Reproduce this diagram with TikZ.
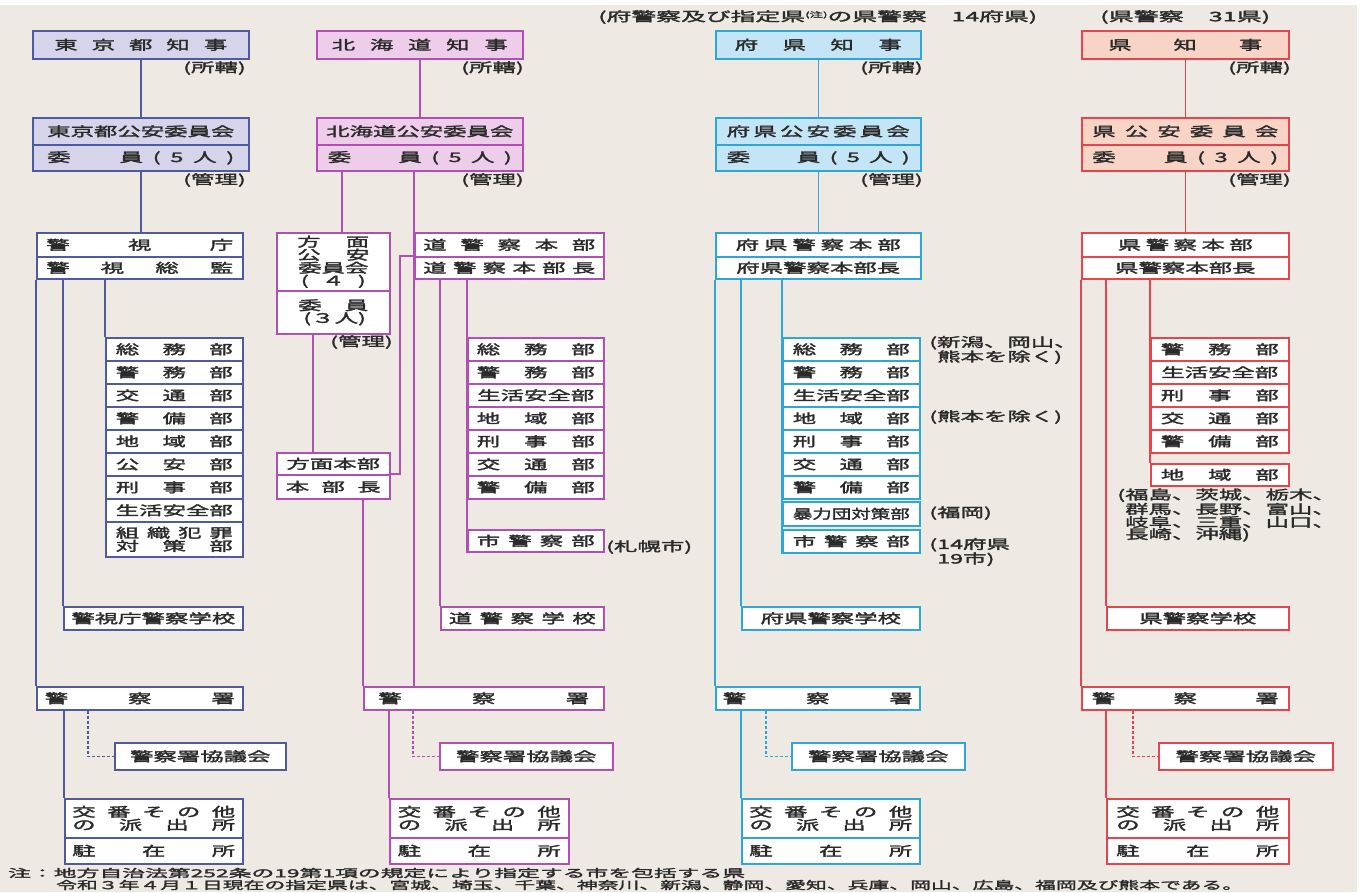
\documentclass[tikz,border=0pt]{standalone}
\usepackage{fontspec}
\usepackage{graphicx}
\setmainfont{Noto Sans CJK JP}[FakeStretch=1.8, FakeBold=2.3]
\definecolor{bgc}{HTML}{EFE9E4}
\definecolor{txt}{HTML}{2A2A2A}
\definecolor{cT}{HTML}{4F5AA3}\definecolor{fT}{HTML}{D5D4EB}
\definecolor{cH}{HTML}{B24FB4}\definecolor{fH}{HTML}{EDCDE9}
\definecolor{cF}{HTML}{2EA7D8}\definecolor{fF}{HTML}{C3E5F5}
\definecolor{cK}{HTML}{EA434D}\definecolor{fK}{HTML}{F8D4C6}
\newcommand\spr[2]{\makebox[#1pt][s]{#2}}
\newcommand\fitw[2]{\resizebox{#1pt}{\height}{#2}}
\newcommand\iinn[2]{\makebox[#1pt][s]{委\hfil\hfil\hfil\hfil\hfil 員\hfil (\hfil #2\hfil 人\hfil )}}
\newcommand\bxx[8][]{\node[bx=#3, fill=#4, minimum width=#6pt, minimum height=#7pt, #1] (#2) at (#5) {#8};}
\begin{document}
\begin{tikzpicture}[x=1pt,y=-1pt,
  bx/.style={draw=#1, line width=1.6pt, inner sep=0pt, anchor=north west, align=center, text=txt, font=\fontsize{13}{12}\selectfont},
  ln/.style={draw=#1, line width=1.6pt},
  dsh/.style={draw=#1, line width=1.3pt, dash pattern=on 3pt off 2pt},
  lbl/.style={inner sep=0pt, text=txt, font=\fontsize{13}{12}\selectfont},
  tight/.style={font=\fontsize{13}{11.5}\selectfont}]
\useasboundingbox (0,0) rectangle (1365,892);
\fill[white] (0,0) rectangle (1365,892);
\fill[bgc] (0,5) rectangle (1357,892);

% header
\node[lbl, anchor=west] (hdF) at (598,17) {\fitw{439}{(府警察及び指定県\raisebox{4pt}{\fontsize{7}{7}\selectfont(注)}の県警察　14府県)}};
\node[lbl, anchor=west] (hdK) at (1100,17) {\fitw{170}{(県警察　31県)}};

% ===== Tokyo =====
\bxx{Tg}{cT}{fT}{32,30}{216}{28}{\spr{173}{東\hfil 京\hfil 都\hfil 知\hfil 事}}
\node[lbl, anchor=east] (Tl1) at (246,68) {(所轄)};
\bxx{Tc1}{cT}{fT}{32,117}{216}{27}{東京都公安委員会}
\bxx{Tc2}{cT}{fT}{32,144}{216}{26}{\iinn{187}{5}}
\node[lbl, anchor=east] (Tl2) at (246,180) {(管理)};
\bxx{Th1}{cT}{white}{36,232}{206}{24}{\spr{187}{警\hfil 視\hfil 庁}}
\bxx{Th2}{cT}{white}{36,256}{206}{22}{\spr{187}{警\hfil 視\hfil 総\hfil 監}}
\bxx{Td1}{cT}{white}{105,337}{137}{23}{\spr{117}{総\hfil 務\hfil 部}}
\bxx{Td2}{cT}{white}{105,360}{137}{23}{\spr{117}{警\hfil 務\hfil 部}}
\bxx{Td3}{cT}{white}{105,383}{137}{23}{\spr{117}{交\hfil 通\hfil 部}}
\bxx{Td4}{cT}{white}{105,406}{137}{23}{\spr{117}{警\hfil 備\hfil 部}}
\bxx{Td5}{cT}{white}{105,429}{137}{23}{\spr{117}{地\hfil 域\hfil 部}}
\bxx{Td6}{cT}{white}{105,452}{137}{23}{\spr{117}{公\hfil 安\hfil 部}}
\bxx{Td7}{cT}{white}{105,475}{137}{23}{\spr{117}{刑\hfil 事\hfil 部}}
\bxx{Td8}{cT}{white}{105,498}{137}{23}{生活安全部}
\bxx{Td9}{cT}{white}{105,521}{137}{35}{\spr{117}{組\hfil 織\hfil 犯\hfil 罪}\\\spr{117}{対\hfil 策\hfil 部}}
\bxx{Ts}{cT}{white}{63,606}{179}{23}{警視庁警察学校}
\bxx{Tp}{cT}{white}{36,686}{206}{23}{\spr{190}{警\hfil 察\hfil 署}}
\bxx{Tk}{cT}{white}{114,742}{171}{27}{警察署協議会}
\bxx{Tx1}{cT}{white}{64,798}{178}{39}{\spr{163}{交\hfil 番\hfil そ\hfil の\hfil 他}\\\spr{163}{の\hfil 派\hfil 出\hfil 所}}
\bxx{Tx2}{cT}{white}{64,837}{178}{26}{\spr{163}{駐\hfil 在\hfil 所}}
\coordinate (T88) at (88,0);
\draw[ln=cT] (Tg.south) -- (Tg.south |- Tc1.north);
\draw[ln=cT] (Tc2.south) -- (Tc2.south |- Th1.north);
\draw[ln=cT] (Th2.south west) -- (Tp.north west);
\draw[ln=cT] (Ts.north west |- Th2.south) -- (Ts.north west);
\draw[ln=cT] (Td1.north west |- Th2.south) -- (Td1.north west);
\draw[ln=cT] (Tx1.north west |- Tp.south) -- (Tx1.north west);
\draw[dsh=cT] (T88 |- Tp.south) -- (T88 |- Tk.west) -- (Tk.west);

% ===== Hokkaido =====
\bxx{Hg}{cH}{fH}{316,30}{206}{28}{\spr{176}{北\hfil 海\hfil 道\hfil 知\hfil 事}}
\node[lbl, anchor=east] (Hl1) at (524,68) {(所轄)};
\bxx{Hc1}{cH}{fH}{316,117}{206}{27}{北海道公安委員会}
\bxx{Hc2}{cH}{fH}{316,144}{206}{26}{\iinn{184}{5}}
\node[lbl, anchor=east] (Hl2) at (524,180) {(管理)};
\bxx[tight]{Hm1}{cH}{white}{276,232}{113}{58}{\spr{72}{方\hfil 面}\\\spr{72}{公\hfil 安}\\委員会\\\spr{65}{(\hfil ４\hfil )}}
\bxx[tight]{Hm2}{cH}{white}{276,290}{113}{43}{\spr{70}{委\hfil 員}\\\spr{60}{(\hfil ３\hfil 人\hfil )}}
\node[lbl, anchor=east] (Hl3) at (393,342) {(管理)};
\bxx{Hb1}{cH}{white}{276,452}{113}{22}{方面本部}
\bxx{Hb2}{cH}{white}{276,474}{113}{24}{\spr{95}{本\hfil 部\hfil 長}}
\bxx{Hh1}{cH}{white}{414,232}{189}{24}{\spr{172}{道\hfil 警\hfil 察\hfil 本\hfil 部}}
\bxx{Hh2}{cH}{white}{414,256}{189}{22}{\spr{172}{道\hfil 警\hfil 察\hfil 本\hfil 部\hfil 長}}
\bxx{Hd1}{cH}{white}{467,337}{136}{23}{\spr{118}{総\hfil 務\hfil 部}}
\bxx{Hd2}{cH}{white}{467,360}{136}{23}{\spr{118}{警\hfil 務\hfil 部}}
\bxx{Hd3}{cH}{white}{467,383}{136}{23}{生活安全部}
\bxx{Hd4}{cH}{white}{467,406}{136}{23}{\spr{118}{地\hfil 域\hfil 部}}
\bxx{Hd5}{cH}{white}{467,429}{136}{23}{\spr{118}{刑\hfil 事\hfil 部}}
\bxx{Hd6}{cH}{white}{467,452}{136}{23}{\spr{118}{交\hfil 通\hfil 部}}
\bxx{Hd7}{cH}{white}{467,475}{136}{23}{\spr{118}{警\hfil 備\hfil 部}}
\bxx{Hcity}{cH}{white}{467,529}{136}{22}{\spr{118}{市\hfil 警\hfil 察\hfil 部}}
\node[lbl, anchor=west] (Hl4) at (606,547) {(札幌市)};
\bxx{Hs}{cH}{white}{440,606}{163}{23}{\spr{147}{道\hfil 警\hfil 察\hfil 学\hfil 校}}
\bxx{Hp}{cH}{white}{363,686}{240}{23}{\spr{211}{警\hfil 察\hfil 署}}
\bxx{Hk}{cH}{white}{439,742}{173}{27}{警察署協議会}
\bxx{Hx1}{cH}{white}{389,798}{179}{39}{\spr{163}{交\hfil 番\hfil そ\hfil の\hfil 他}\\\spr{163}{の\hfil 派\hfil 出\hfil 所}}
\bxx{Hx2}{cH}{white}{389,837}{179}{26}{\spr{163}{駐\hfil 在\hfil 所}}
\coordinate (H342) at (342,0);
\coordinate (H313) at (313,0);
\coordinate (H400) at (400,0);
\coordinate (H413) at (413,0);
\draw[ln=cH] (Hg.south) -- (Hg.south |- Hc1.north);
\draw[ln=cH] (H342 |- Hc2.south) -- (H342 |- Hm1.north);
\draw[ln=cH] (Hh1.north west |- Hc2.south) -- (Hh1.north west |- Hp.north);
\draw[ln=cH] (H313 |- Hm2.south) -- (H313 |- Hb1.north);
\draw[ln=cH] (Hh2.north west) -- (H400 |- Hh2.north west) -- (H400 |- Hb2.north east) -- (Hb2.north east);
\draw[ln=cH] (Hp.north west |- Hb2.south) -- (Hp.north west);
\draw[ln=cH] (Hs.north west |- Hh2.south) -- (Hs.north west);
\draw[ln=cH] (Hd1.north west |- Hh2.south) -- (Hcity.south west);
\draw[ln=cH] (Hx1.north west |- Hp.south) -- (Hx1.north west);
\draw[dsh=cH] (H413 |- Hp.south) -- (H413 |- Hk.west) -- (Hk.west);

% ===== Fuken =====
\bxx{Fg}{cF}{fF}{715,30}{205}{28}{\spr{167}{府\hfil 県\hfil 知\hfil 事}}
\node[lbl, anchor=east] (Fl1) at (923,68) {(所轄)};
\bxx{Fc1}{cF}{fF}{715,117}{205}{27}{\spr{183}{府\hfil 県\hfil 公\hfil 安\hfil 委\hfil 員\hfil 会}}
\bxx{Fc2}{cF}{fF}{715,144}{205}{26}{\iinn{183}{5}}
\node[lbl, anchor=east] (Fl2) at (923,180) {(管理)};
\bxx{Fh1}{cF}{white}{715,232}{205}{24}{\spr{165}{府\hfil 県\hfil 警\hfil 察\hfil 本\hfil 部}}
\bxx{Fh2}{cF}{white}{715,256}{205}{22}{府県警察本部長}
\bxx{Fd1}{cF}{white}{782,337}{137}{23}{\spr{117}{総\hfil 務\hfil 部}}
\bxx{Fd2}{cF}{white}{782,360}{137}{23}{\spr{117}{警\hfil 務\hfil 部}}
\bxx{Fd3}{cF}{white}{782,383}{137}{23}{生活安全部}
\bxx{Fd4}{cF}{white}{782,406}{137}{23}{\spr{117}{地\hfil 域\hfil 部}}
\bxx{Fd5}{cF}{white}{782,429}{137}{23}{\spr{117}{刑\hfil 事\hfil 部}}
\bxx{Fd6}{cF}{white}{782,452}{137}{23}{\spr{117}{交\hfil 通\hfil 部}}
\bxx{Fd7}{cF}{white}{782,475}{137}{23}{\spr{117}{警\hfil 備\hfil 部}}
\bxx{Fv}{cF}{white}{782,501}{137}{24}{\fitw{117}{暴力団対策部}}
\bxx{Fcity}{cF}{white}{782,529}{137}{23}{\spr{117}{市\hfil 警\hfil 察\hfil 部}}
\node[lbl, anchor=west, align=left] (Fa1) at (937,350) {\llap{(}新潟、岡山、\\熊本を除く)};
\node[lbl, anchor=west] (Fa2) at (937,417) {\llap{(}熊本を除く)};
\node[lbl, anchor=west] (Fa3) at (937,513) {\llap{(}福岡)};
\node[lbl, anchor=west, align=left] (Fa4) at (937,552) {\llap{(}14府県\\19市)};
\bxx{Fs}{cF}{white}{741,606}{178}{23}{府県警察学校}
\bxx{Fp}{cF}{white}{715,686}{204}{23}{\spr{190}{警\hfil 察\hfil 署}}
\bxx{Fk}{cF}{white}{791,742}{173}{27}{警察署協議会}
\bxx{Fx1}{cF}{white}{741,798}{178}{39}{\spr{163}{交\hfil 番\hfil そ\hfil の\hfil 他}\\\spr{163}{の\hfil 派\hfil 出\hfil 所}}
\bxx{Fx2}{cF}{white}{741,837}{178}{26}{\spr{163}{駐\hfil 在\hfil 所}}
\coordinate (F766) at (766,0);
\draw[ln=cF] (Fg.south) -- (Fg.south |- Fc1.north);
\draw[ln=cF] (Fc2.south) -- (Fc2.south |- Fh1.north);
\draw[ln=cF] (Fh2.south west) -- (Fp.north west);
\draw[ln=cF] (Fs.north west |- Fh2.south) -- (Fs.north west);
\draw[ln=cF] (Fd1.north west |- Fh2.south) -- (Fcity.south west);
\draw[ln=cF] (Fx1.north west |- Fp.south) -- (Fx1.north west);
\draw[dsh=cF] (F766 |- Fp.south) -- (F766 |- Fk.west) -- (Fk.west);

% ===== Ken =====
\bxx{Kg}{cK}{fK}{1081,30}{207}{28}{\spr{154}{県\hfil 知\hfil 事}}
\node[lbl, anchor=east] (Kl1) at (1291,68) {(所轄)};
\bxx{Kc1}{cK}{fK}{1081,117}{207}{27}{\spr{186}{県\hfil 公\hfil 安\hfil 委\hfil 員\hfil 会}}
\bxx{Kc2}{cK}{fK}{1081,144}{207}{26}{\iinn{186}{3}}
\node[lbl, anchor=east] (Kl2) at (1291,180) {(管理)};
\bxx{Kh1}{cK}{white}{1081,232}{207}{24}{\spr{135}{県\hfil 警\hfil 察\hfil 本\hfil 部}}
\bxx{Kh2}{cK}{white}{1081,256}{207}{22}{県警察本部長}
\bxx{Kd1}{cK}{white}{1150,337}{138}{23}{\spr{118}{警\hfil 務\hfil 部}}
\bxx{Kd2}{cK}{white}{1150,360}{138}{23}{生活安全部}
\bxx{Kd3}{cK}{white}{1150,383}{138}{23}{\spr{118}{刑\hfil 事\hfil 部}}
\bxx{Kd4}{cK}{white}{1150,406}{138}{23}{\spr{118}{交\hfil 通\hfil 部}}
\bxx{Kd5}{cK}{white}{1150,429}{138}{23}{\spr{118}{警\hfil 備\hfil 部}}
\bxx{Kch}{cK}{white}{1150,463}{138}{22}{\spr{118}{地\hfil 域\hfil 部}}
\node[lbl, anchor=west, align=left] (Ka1) at (1125,515) {\llap{(}福島、茨城、栃木、\\群馬、長野、富山、\\岐阜、三重、山口、\\長崎、沖縄)};
\bxx{Ks}{cK}{white}{1106,606}{182}{23}{県警察学校}
\bxx{Kp}{cK}{white}{1081,686}{207}{23}{\spr{187}{警\hfil 察\hfil 署}}
\bxx{Kk}{cK}{white}{1158,742}{174}{27}{警察署協議会}
\bxx{Kx1}{cK}{white}{1106,798}{182}{39}{\spr{163}{交\hfil 番\hfil そ\hfil の\hfil 他}\\\spr{163}{の\hfil 派\hfil 出\hfil 所}}
\bxx{Kx2}{cK}{white}{1106,837}{182}{26}{\spr{163}{駐\hfil 在\hfil 所}}
\coordinate (K1133) at (1133,0);
\draw[ln=cK] (Kg.south) -- (Kg.south |- Kc1.north);
\draw[ln=cK] (Kc2.south) -- (Kc2.south |- Kh1.north);
\draw[ln=cK] (Kh2.south west) -- (Kp.north west);
\draw[ln=cK] (Ks.north west |- Kh2.south) -- (Ks.north west);
\draw[ln=cK] (Kd1.north west |- Kh2.south) -- (Kch.north west);
\draw[ln=cK] (Kx1.north west |- Kp.south) -- (Kx1.north west);
\draw[dsh=cK] (K1133 |- Kp.south) -- (K1133 |- Kk.west) -- (Kk.west);

% footnote
\node[lbl, anchor=west, font=\fontsize{11}{11}\selectfont] (fn1) at (8,873) {\fitw{737}{注：地方自治法第252条の19第1項の規定により指定する市を包括する県}};
\node[lbl, anchor=west, font=\fontsize{11}{11}\selectfont] (fn2) at (56,885) {\fitw{1187}{令和３年４月１日現在の指定県は、宮城、埼玉、千葉、神奈川、新潟、静岡、愛知、兵庫、岡山、広島、福岡及び熊本である。}};
\end{tikzpicture}
\end{document}
